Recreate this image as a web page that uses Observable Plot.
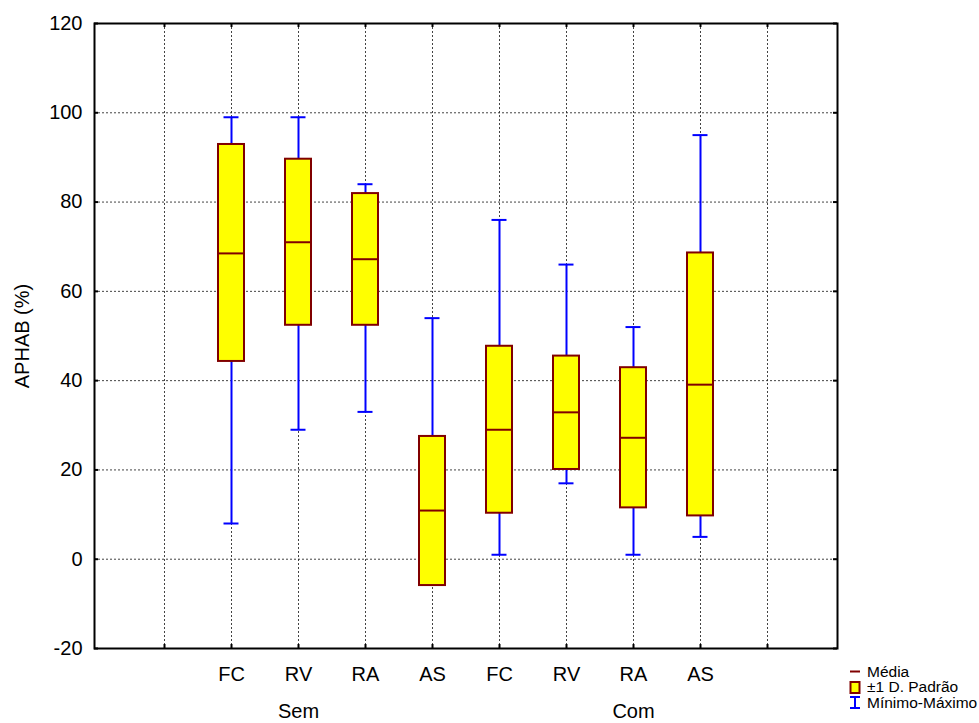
<!DOCTYPE html>
<html>
<head>
<meta charset="utf-8">
<script src="https://cdn.jsdelivr.net/npm/d3@7"></script>
<script src="https://cdn.jsdelivr.net/npm/@observablehq/plot@0.6"></script>
<style>
  body { margin: 0; background: #fff; font-family: "Liberation Sans", Arial, sans-serif; }
  #wrap { position: relative; width: 979px; height: 723px; }
  #legend { position: absolute; left: 849px; top: 664px; font-size: 15.5px; color: #000; }
  .row { display: flex; align-items: center; height: 15.5px; white-space: nowrap; }
  .row svg { width: 12px; height: 15px; margin-right: 6px; flex: none; }
</style>
</head>
<body>
<div id="wrap">
  <div id="chart"></div>
  <div id="legend">
    <div class="row"><svg viewBox="0 0 12 15"><line x1="1" x2="11" y1="7.5" y2="7.5" stroke="#800000" stroke-width="2"/></svg>Média</div>
    <div class="row"><svg viewBox="0 0 12 15"><rect x="1.5" y="2" width="9" height="11" fill="#ffff00" stroke="#800000" stroke-width="2"/></svg>±1 D. Padrão</div>
    <div class="row"><svg viewBox="0 0 12 15"><line x1="1" x2="11" y1="2" y2="2" stroke="#0000ff" stroke-width="2"/><line x1="6" x2="6" y1="2" y2="13" stroke="#0000ff" stroke-width="2"/><line x1="1" x2="11" y1="13" y2="13" stroke="#0000ff" stroke-width="2"/></svg>Mínimo-Máximo</div>
  </div>
</div>
<script>
// ---- data ----
const keys = ["e1", "FC1", "RV1", "RA1", "AS1", "FC2", "RV2", "RA2", "AS2", "e2"];
const tickLabels = ["", "FC", "RV", "RA", "AS", "FC", "RV", "RA", "AS", ""];
const groupKeys = ["RV1", "RA2"];
const groupNames = ["Sem", "Com"];
const categories = ["FC1", "RV1", "RA1", "AS1", "FC2", "RV2", "RA2", "AS2"];
const means  = [68.5, 71.0, 67.2, 10.9, 29.0, 32.9, 27.2, 39.1];
const sdLow  = [44.3, 52.4, 52.4, -5.9, 10.3, 20.1, 11.5,  9.7];
const sdHigh = [92.9, 89.6, 81.9, 27.5, 47.7, 45.5, 42.9, 68.6];
const mins   = [ 8,   29,   33,    0,    1,   17,    1,    5];
const maxs   = [99,   99,   84,   54,   76,   66,   52,   95];
const yTicks = [-20, 0, 20, 40, 60, 80, 100, 120];
const yLabel = "APHAB (%)";

// ---- table ----
const data = categories.map((k, i) => ({
  key: k, mean: means[i], lo: sdLow[i], hi: sdHigh[i], min: mins[i], max: maxs[i]
}));

const W = 979, H = 723, mL = 94, mR = 142, mT = 23, mB = 75;
const plotW = W - mL - mR, plotH = H - mT - mB;
const font = '"Liberation Sans", Arial, sans-serif';
const red = "#800000", blue = "#0000ff", yellow = "#ffff00";
const fs = 20;

const chart = Plot.plot({
  width: W, height: H,
  marginLeft: mL, marginRight: mR, marginTop: mT, marginBottom: mB,
  style: { fontFamily: font, fontSize: fs + "px", color: "#000", background: "#fff" },
  x: { type: "band", domain: keys, paddingInner: 0.615, paddingOuter: 0.8075, axis: null },
  y: { domain: [-20, 120], axis: null },
  marks: [
    Plot.ruleY(yTicks.slice(1, -1), { stroke: "#222", strokeOpacity: 0.85, strokeDasharray: "2,2" }),
    Plot.ruleX(keys, { stroke: "#222", strokeOpacity: 0.85, strokeDasharray: "2,2" }),
    Plot.ruleX(data, { x: "key", y1: "min", y2: "max", stroke: blue, strokeWidth: 2 }),
    Plot.tickY(data, { x: "key", y: "min", stroke: blue, strokeWidth: 2, inset: 5.5 }),
    Plot.tickY(data, { x: "key", y: "max", stroke: blue, strokeWidth: 2, inset: 5.5 }),
    Plot.barY(data, { x: "key", y1: "lo", y2: "hi", fill: yellow, stroke: red, strokeWidth: 2 }),
    Plot.tickY(data, { x: "key", y: "mean", stroke: red, strokeWidth: 2 }),
    Plot.frame({ stroke: "#000", strokeWidth: 2 }),
    // inward frame ticks
    Plot.tickX(keys, { x: d => d, insetBottom: plotH - 4, stroke: "#000", strokeWidth: 2 }),
    Plot.tickX(keys, { x: d => d, insetTop: plotH - 4, stroke: "#000", strokeWidth: 2 }),
    Plot.tickY(yTicks, { y: d => d, insetRight: plotW - 4, stroke: "#000", strokeWidth: 2 }),
    Plot.tickY(yTicks, { y: d => d, insetLeft: plotW - 4, stroke: "#000", strokeWidth: 2 }),
    Plot.axisX({ ticks: keys, tickFormat: k => tickLabels[keys.indexOf(k)], tickSize: 0, tickPadding: 18, label: null, fontSize: fs }),
    Plot.axisX({ ticks: groupKeys, tickFormat: k => groupNames[groupKeys.indexOf(k)], tickSize: 0, tickPadding: 55, label: null, fontSize: fs }),
    Plot.axisY({ ticks: yTicks, tickFormat: d => String(d), tickSize: 0, tickPadding: 12, label: null, fontSize: fs }),
    Plot.text([yLabel], { frameAnchor: "left", textAnchor: "middle", rotate: -90, dx: -72, fontSize: fs, fill: "#000" })
  ]
});
document.getElementById("chart").appendChild(chart);
</script>
</body>
</html>
